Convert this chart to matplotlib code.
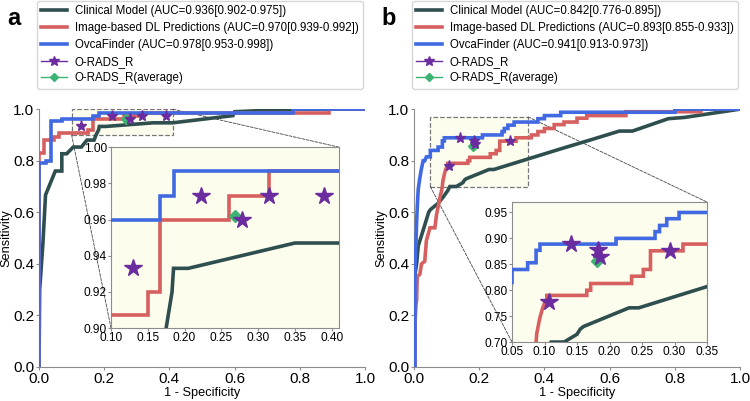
import matplotlib
matplotlib.use("Agg")
import matplotlib.pyplot as plt
from matplotlib.lines import Line2D
from matplotlib.patches import Rectangle, ConnectionPatch

plt.rcParams['font.family'] = ['Liberation Sans', 'DejaVu Sans']

# ---------------- data: panel a ----------------
clin_a_fpr = [0, 0.0, 0.002, 0.012, 0.02, 0.05, 0.07, 0.07, 0.085, 0.095, 0.105, 0.13, 0.147, 0.169, 0.175, 0.183,
              0.185, 0.205, 0.35, 0.41, 0.595, 0.6, 0.78, 1.0]
clin_a_tpr = [0, 0.0, 0.30, 0.48, 0.667, 0.76, 0.76, 0.827, 0.827, 0.84, 0.853, 0.853, 0.88, 0.88, 0.90, 0.92,
              0.933, 0.933, 0.947, 0.947, 0.975, 0.99, 1.0, 1.0]
dl_a_fpr = [0, 0, 0.015, 0.015, 0.045, 0.045, 0.06, 0.06, 0.15, 0.15, 0.167, 0.167, 0.26, 0.26, 0.315, 0.315,
            0.89, 0.89, 1.0]
dl_a_tpr = [0, 0.83, 0.83, 0.88, 0.88, 0.893, 0.893, 0.907, 0.907, 0.92, 0.92, 0.96, 0.96, 0.973, 0.973, 0.987,
            0.987, 1.0, 1.0]
ovca_a_fpr = [0, 0, 0.02, 0.02, 0.038, 0.038, 0.07, 0.07, 0.167, 0.167, 0.185, 0.185, 0.78, 0.78, 1.0]
ovca_a_tpr = [0, 0.79, 0.79, 0.80, 0.80, 0.953, 0.953, 0.96, 0.96, 0.973, 0.973, 0.987, 0.987, 1.0, 1.0]
orads_a_fpr = [0.13, 0.223, 0.278, 0.315, 0.389]
orads_a_tpr = [0.933, 0.973, 0.960, 0.973, 0.973]
avg_a_fpr = [0.268]
avg_a_tpr = [0.962]
labels_a = ["Clinical Model (AUC=0.936[0.902-0.975])",
            "Image-based DL Predictions (AUC=0.970[0.939-0.992])",
            "OvcaFinder (AUC=0.978[0.953-0.998])",
            "O-RADS_R", "O-RADS_R(average)"]
zoom_a_x = (0.10, 0.41)
zoom_a_y = (0.90, 1.00)
zoom_a_xticks = [0.10, 0.15, 0.20, 0.25, 0.30, 0.35, 0.40]
zoom_a_yticks = [0.90, 0.92, 0.94, 0.96, 0.98, 1.00]

# ---------------- data: panel b ----------------
clin_b_fpr = [0, 0.003, 0.008, 0.013, 0.028, 0.045, 0.05, 0.074, 0.09, 0.104, 0.11, 0.13, 0.15, 0.155, 0.16,
              0.23, 0.245, 0.35, 0.45, 0.55, 0.63, 0.67, 0.78, 0.83, 1.0]
clin_b_tpr = [0, 0.36, 0.40, 0.47, 0.53, 0.60, 0.61, 0.635, 0.66, 0.685, 0.70, 0.70, 0.715, 0.725, 0.73,
              0.766, 0.766, 0.807, 0.846, 0.884, 0.915, 0.915, 0.963, 0.968, 1.0]
dl_b_fpr = [0, 0.003, 0.003, 0.006, 0.008, 0.01, 0.018, 0.023, 0.033, 0.038, 0.049, 0.064, 0.069, 0.08, 0.085,
            0.087, 0.088, 0.092, 0.094, 0.097, 0.1, 0.1035, 0.1035, 0.165, 0.165, 0.171, 0.171, 0.234, 0.234,
            0.252, 0.252, 0.263, 0.263, 0.313, 0.313, 0.36, 0.36, 0.38, 0.38, 0.40, 0.40, 0.43, 0.43, 0.46,
            0.46, 0.50, 0.50, 0.53, 0.53, 0.65, 0.65, 0.88, 0.88, 1.0]
dl_b_tpr = [0, 0, 0.17, 0.24, 0.26, 0.35, 0.36, 0.40, 0.41, 0.49, 0.54, 0.54, 0.59, 0.66, 0.686,
            0.70, 0.716, 0.742, 0.752, 0.765, 0.775, 0.775, 0.79, 0.79, 0.80, 0.80, 0.813, 0.813, 0.827,
            0.827, 0.84, 0.84, 0.876, 0.876, 0.889, 0.889, 0.90, 0.90, 0.913, 0.913, 0.925, 0.925, 0.94, 0.94,
            0.95, 0.95, 0.965, 0.965, 0.975, 0.975, 0.99, 0.99, 1.0, 1.0]
ovca_b_fpr = [0, 0.003, 0.003, 0.006, 0.008, 0.01, 0.013, 0.017, 0.022, 0.028, 0.033, 0.038, 0.045, 0.05,
              0.05, 0.074, 0.074, 0.087, 0.087, 0.093, 0.093, 0.21, 0.21, 0.27, 0.27, 0.277, 0.277, 0.288,
              0.288, 0.307, 0.307, 0.38, 0.38, 0.40, 0.40, 0.45, 0.45, 0.80, 0.80, 1.0]
ovca_b_tpr = [0, 0, 0.39, 0.48, 0.56, 0.62, 0.69, 0.725, 0.764, 0.80, 0.80, 0.815, 0.815, 0.815,
              0.84, 0.84, 0.853, 0.853, 0.877, 0.877, 0.889, 0.889, 0.90, 0.90, 0.913, 0.913, 0.925, 0.925,
              0.938, 0.938, 0.95, 0.95, 0.963, 0.963, 0.975, 0.975, 0.988, 0.988, 1.0, 1.0]
orads_b_fpr = [0.107, 0.140, 0.183, 0.186, 0.293]
orads_b_tpr = [0.778, 0.889, 0.877, 0.865, 0.876]
avg_b_fpr = [0.181]
avg_b_tpr = [0.857]
labels_b = ["Clinical Model (AUC=0.842[0.776-0.895])",
            "Image-based DL Predictions (AUC=0.893[0.855-0.933])",
            "OvcaFinder (AUC=0.941[0.913-0.973])",
            "O-RADS_R", "O-RADS_R(average)"]
zoom_b_x = (0.05, 0.35)
zoom_b_y = (0.70, 0.97)
zoom_b_xticks = [0.05, 0.10, 0.15, 0.20, 0.25, 0.30, 0.35]
zoom_b_yticks = [0.70, 0.75, 0.80, 0.85, 0.90, 0.95]

main_ticks = [0.0, 0.2, 0.4, 0.6, 0.8, 1.0]

# ---------------- style ----------------
C_CLIN = '#2f4f4f'
C_DL = '#d65f5f'
C_OVCA = '#4169e1'
C_STAR = '#6a2c9e'
C_AVG = '#3cb371'
C_ZOOM = '#fdfdee'
SPINE = '#8c8c8c'

fig = plt.figure(figsize=(7.5, 4.01), dpi=100)


def panel(main_rect, inset_rect, letter, letter_x, curves, orads, avg, labels, zx, zy, zxt, zyt):
    ax = fig.add_axes(main_rect)
    axin = fig.add_axes(inset_rect)
    for a in (ax, axin):
        for (fx, ty), col in zip(curves, (C_CLIN, C_DL, C_OVCA)):
            a.plot(fx, ty, color=col, lw=2.6, solid_joinstyle='miter', zorder=3)
    ax.plot(orads[0], orads[1], ls='none', marker='*', ms=8, color=C_STAR, zorder=5)
    ax.plot(avg[0], avg[1], ls='none', marker='D', ms=5, color=C_AVG, zorder=4)
    axin.plot(orads[0], orads[1], ls='none', marker='*', ms=13, color=C_STAR, zorder=5)
    axin.plot(avg[0], avg[1], ls='none', marker='D', ms=6.5, color=C_AVG, zorder=4)

    ax.set_xlim(0, 1)
    ax.set_ylim(0, 1)
    ax.set_xticks(main_ticks)
    ax.set_yticks(main_ticks)
    ax.set_xticklabels([f"{t:.1f}" for t in main_ticks])
    ax.set_yticklabels([f"{t:.1f}" for t in main_ticks])
    ax.spines['top'].set_visible(False)
    ax.spines['right'].set_visible(False)
    for s in ('left', 'bottom'):
        ax.spines[s].set_color(SPINE)
    ax.tick_params(length=2.5, pad=1, color=SPINE, labelsize=11)
    ax.set_xlabel('1 - Specificity', fontsize=9.2, labelpad=1)
    ax.set_ylabel('Sensitivity', fontsize=9.2, labelpad=0.5)

    ax.add_patch(Rectangle((zx[0], zy[0]), zx[1] - zx[0], zy[1] - zy[0], fc=C_ZOOM, ec='#777777',
                           ls='--', lw=0.9, zorder=1))

    axin.set_xlim(*zx)
    axin.set_ylim(*zy)
    axin.set_xticks(zxt)
    axin.set_yticks(zyt)
    axin.set_xticklabels([f"{t:.2f}" for t in zxt])
    axin.set_yticklabels([f"{t:.2f}" for t in zyt])
    axin.set_facecolor(C_ZOOM)
    for s in axin.spines.values():
        s.set_color(SPINE)
    axin.tick_params(length=2, pad=1, color=SPINE, labelsize=8.6)
    axin.set_zorder(ax.get_zorder() + 1)

    for xyA, xyB in (((zx[0], zy[0]), (0, 0)), ((zx[1], zy[1]), (1, 1))):
        con = ConnectionPatch(xyA=xyA, coordsA=ax.transData, xyB=xyB, coordsB=axin.transAxes,
                              color='#444444', ls='--', lw=0.6, zorder=2)
        ax.add_artist(con)

    handles = [Line2D([], [], color=C_CLIN, lw=2.6),
               Line2D([], [], color=C_DL, lw=2.6),
               Line2D([], [], color=C_OVCA, lw=2.6),
               Line2D([], [], color=C_STAR, lw=1, marker='*', ms=7),
               Line2D([], [], color=C_AVG, lw=1, marker='D', ms=4)]
    leg = ax.legend(handles, labels, loc='lower left', bbox_to_anchor=(-0.005, 1.08), borderaxespad=0,
                    fontsize=8.3, frameon=True, fancybox=True, handlelength=2.2, handletextpad=0.7,
                    labelspacing=0.42, borderpad=0.35)
    leg.get_frame().set_edgecolor('#cccccc')
    fig.text(letter_x, 0.955, letter, fontsize=17, fontweight='bold', ha='center', va='center')
    return ax, axin


panel([0.052, 0.0848, 0.4347, 0.643], [0.148, 0.182, 0.304, 0.451], 'a', 0.018,
      [(clin_a_fpr, clin_a_tpr), (dl_a_fpr, dl_a_tpr), (ovca_a_fpr, ovca_a_tpr)],
      (orads_a_fpr, orads_a_tpr), (avg_a_fpr, avg_a_tpr), labels_a,
      zoom_a_x, zoom_a_y, zoom_a_xticks, zoom_a_yticks)
panel([0.552, 0.0848, 0.4347, 0.643], [0.6827, 0.147, 0.26, 0.349], 'b', 0.518,
      [(clin_b_fpr, clin_b_tpr), (dl_b_fpr, dl_b_tpr), (ovca_b_fpr, ovca_b_tpr)],
      (orads_b_fpr, orads_b_tpr), (avg_b_fpr, avg_b_tpr), labels_b,
      zoom_b_x, zoom_b_y, zoom_b_xticks, zoom_b_yticks)

fig.savefig('out.png', dpi=100)
